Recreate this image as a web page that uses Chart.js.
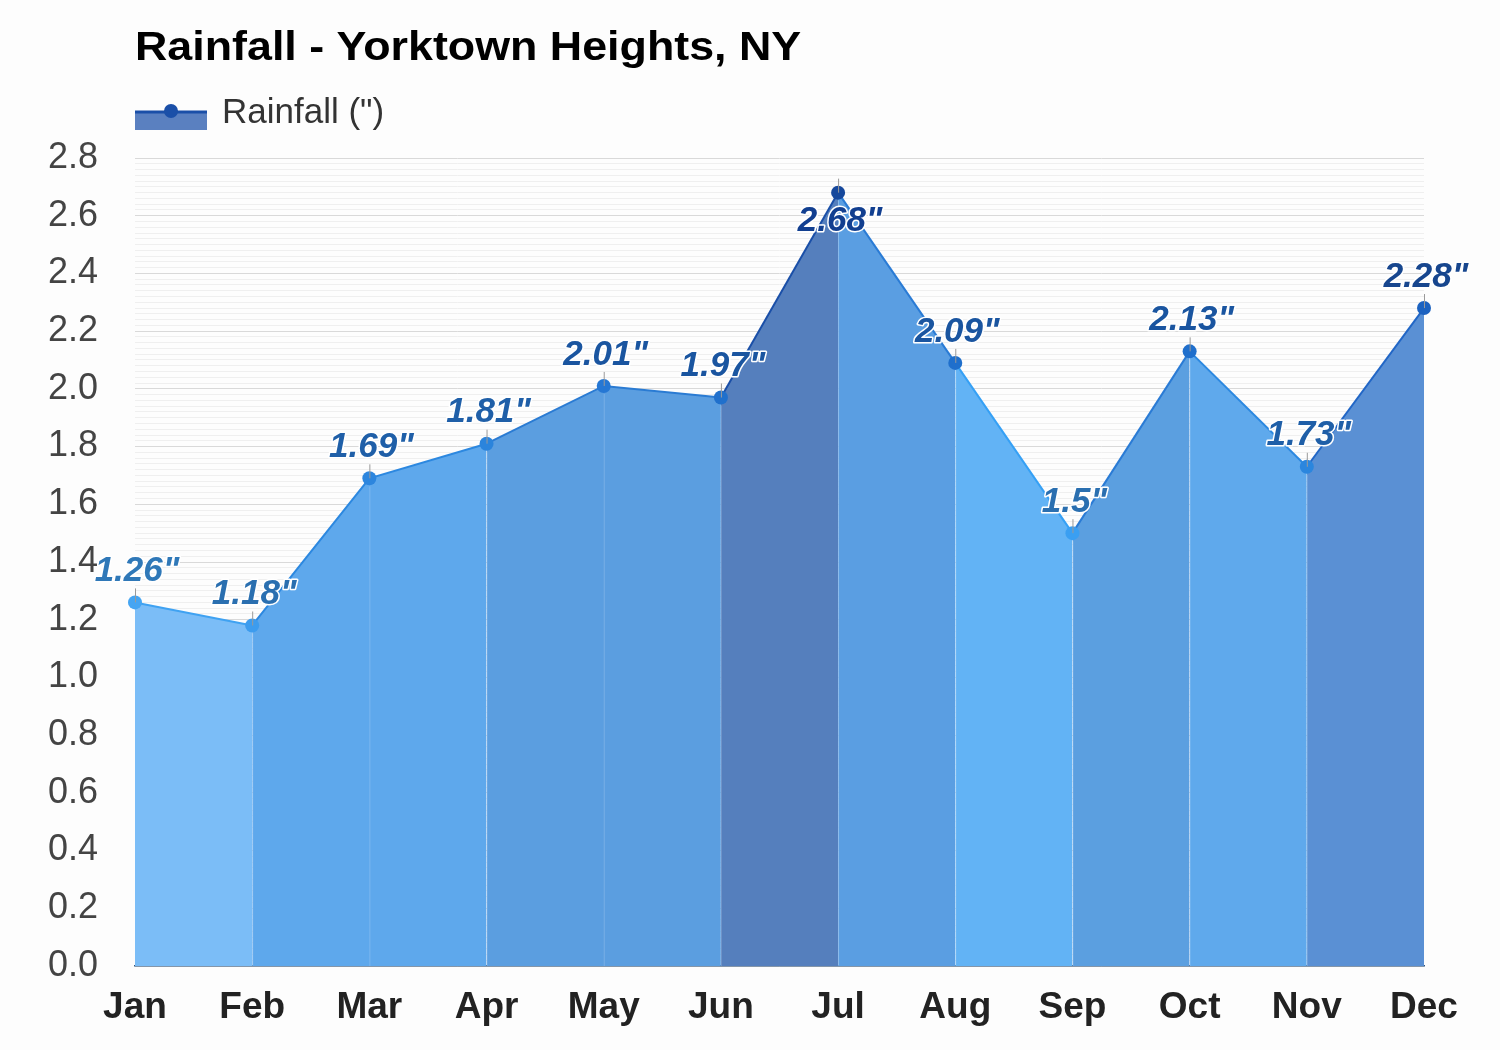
<!DOCTYPE html>
<html>
<head>
<meta charset="utf-8">
<script src="https://cdn.jsdelivr.net/npm/chart.js@4.4.0/dist/chart.umd.min.js"></script>
<style>
  html, body { margin: 0; padding: 0; background: #fdfdfd; }
  #wrap { width: 1500px; height: 1050px; }
</style>
</head>
<body>
<div id="wrap"><canvas id="grafico" width="1500" height="1050"></canvas></div>
<script>
// Datos
const meses = ['Jan', 'Feb', 'Mar', 'Apr', 'May', 'Jun', 'Jul', 'Aug', 'Sep', 'Oct', 'Nov', 'Dec'];
const lluvia = [1.26, 1.18, 1.69, 1.81, 2.01, 1.97, 2.68, 2.09, 1.5, 2.13, 1.73, 2.28];
const etiquetasY = ['0.0', '0.2', '0.4', '0.6', '0.8', '1.0', '1.2', '1.4', '1.6', '1.8', '2.0', '2.2', '2.4', '2.6', '2.8'];

// Colores por tramo y por punto
const coloresRelleno = ['#7bbdf7', '#5ea8ec', '#5ea8ec', '#5b9ee0', '#5b9ee0', '#557fbd', '#5a9ee2', '#62b3f5', '#5b9fe0', '#5fa9ec', '#5a90d4'];
const coloresLinea = ['#3fa2f2', '#2c88e0', '#2c88e0', '#2a7bd3', '#2a7bd3', '#1a4fa8', '#2a7bd5', '#35a0f5', '#2a7bd5', '#2c88e0', '#2166c6'];
const coloresPunto = ['#45a5f2', '#3d9cee', '#2d86de', '#2b84dc', '#2577d4', '#2070cc', '#16489c', '#1f6fcc', '#3a9ff2', '#1f6fcc', '#2b86de', '#1c62c0'];
const coloresTexto = ['#2f78b8', '#2a6fb0', '#1f5fa8', '#1f5fa8', '#1a55a0', '#1a55a0', '#123f90', '#1a55a0', '#2a6fb0', '#1a55a0', '#1f5fa8', '#17468e'];

const fuente = '"Liberation Sans", Arial, sans-serif';

// Titulo y leyenda
const cabecera = {
  id: 'cabecera',
  afterDraw(chart) {
    const c = chart.ctx;
    const x0 = chart.chartArea.left;
    c.save();
    c.fillStyle = '#000';
    c.font = 'bold 40px ' + fuente;
    c.textBaseline = 'middle';
    c.textAlign = 'left';
    // el titulo original es algo mas ancho
    c.save();
    c.translate(x0, 49);
    c.scale(1.12, 1);
    c.fillText('Rainfall - Yorktown Heights, NY', 0, 0);
    c.restore();
    // simbolo de la leyenda
    c.fillStyle = '#5a80c0';
    c.fillRect(x0, 112, 72, 18);
    c.strokeStyle = '#1a4fa8';
    c.lineWidth = 3;
    c.beginPath();
    c.moveTo(x0, 112);
    c.lineTo(x0 + 72, 112);
    c.stroke();
    c.fillStyle = '#1a4fa8';
    c.beginPath();
    c.arc(x0 + 36, 111, 7, 0, Math.PI * 2);
    c.fill();
    c.fillStyle = '#333';
    c.font = '35px ' + fuente;
    c.fillText('Rainfall (")', x0 + 87, 113);
    c.restore();
  }
};

// Etiquetas de valores y separadores
const etiquetas = {
  id: 'etiquetas',
  afterDatasetsDraw(chart) {
    const c = chart.ctx;
    const meta = chart.getDatasetMeta(0);
    const fondo = chart.scales.y.getPixelForValue(0);
    c.save();
    // separadores entre tramos
    c.strokeStyle = 'rgba(255,255,255,0.18)';
    c.lineWidth = 1;
    meta.data.forEach((p, i) => {
      if (i === 0 || i === meta.data.length - 1) return;
      c.beginPath();
      c.moveTo(p.x + 0.5, p.y + 8);
      c.lineTo(p.x + 0.5, fondo);
      c.stroke();
    });
    meta.data.forEach((p, i) => {
      // pequena marca gris
      c.strokeStyle = '#9a9a9a';
      c.lineWidth = 1;
      c.beginPath();
      c.moveTo(p.x + 0.5, p.y);
      c.lineTo(p.x + 0.5, p.y - 14);
      c.stroke();
    });
    c.font = 'italic bold 35px ' + fuente;
    c.textAlign = 'center';
    c.textBaseline = 'middle';
    c.lineJoin = 'round';
    meta.data.forEach((p, i) => {
      const txt = lluvia[i] + '"';
      const y = i === 6 ? p.y + 29 : p.y - 31;
      c.strokeStyle = '#ffffff';
      c.lineWidth = 3;
      c.strokeText(txt, p.x + 2, y);
      c.fillStyle = coloresTexto[i];
      c.fillText(txt, p.x + 2, y);
    });
    c.restore();
  }
};

var ctx = document.getElementById('grafico').getContext('2d');
var myChart = new Chart(ctx, {
  type: 'line',
  data: {
    labels: meses,
    datasets: [{
      label: 'Rainfall (")',
      data: lluvia,
      fill: 'origin',
      tension: 0,
      borderWidth: 2,
      pointRadius: 7,
      pointBorderWidth: 0,
      pointBackgroundColor: coloresPunto,
      pointBorderColor: coloresPunto,
      segment: {
        backgroundColor: s => coloresRelleno[s.p0DataIndex],
        borderColor: s => coloresLinea[s.p0DataIndex]
      }
    }]
  },
  options: {
    responsive: false,
    animation: false,
    layout: { padding: { top: 158, right: 76, bottom: 0, left: 0 } },
    plugins: {
      legend: { display: false },
      title: { display: false },
      tooltip: { enabled: false }
    },
    scales: {
      x: {
        offset: false,
        grid: { display: false, drawTicks: false },
        border: { display: true, color: '#33557a', width: 1.5 },
        ticks: {
          color: '#222',
          font: { family: fuente, size: 37, weight: 'bold' },
          padding: 20,
          maxRotation: 0
        },
        afterFit: s => { s.height = 84; }
      },
      y: {
        min: 0,
        max: 2.8,
        border: { display: false },
        grid: {
          drawTicks: false,
          color: t => (Math.round(t.tick.value * 100) % 20 === 0 ? '#d9d9d9' : '#efefef'),
          lineWidth: 1
        },
        ticks: {
          stepSize: 0.02,
          autoSkip: false,
          color: '#444',
          font: { family: fuente, size: 36 },
          padding: 37,
          callback: v => {
            const k = Math.round(v * 100);
            return k % 20 === 0 ? etiquetasY[k / 20] : '';
          }
        },
        afterFit: s => { s.width = 135; }
      }
    }
  },
  plugins: [cabecera, etiquetas]
});
</script>
</body>
</html>
